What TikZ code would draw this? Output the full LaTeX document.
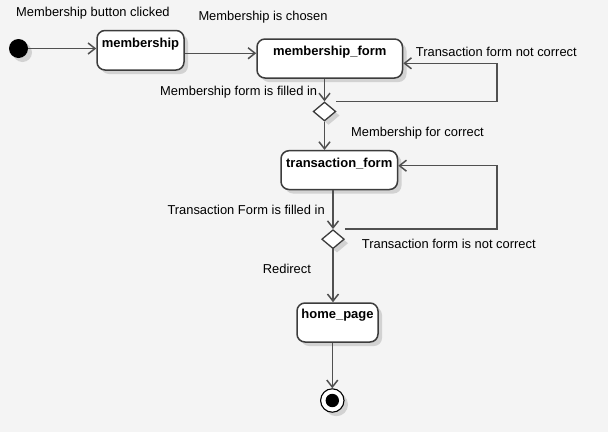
\documentclass[tikz,border=0pt]{standalone}
\usepackage{fontspec}
\setmainfont{Liberation Sans}
\usetikzlibrary{arrows.meta,shadows,shapes.geometric,calc}
\definecolor{bg}{HTML}{F4F4F4}
\definecolor{edgec}{HTML}{505050}
\definecolor{borderc}{HTML}{3C3C3C}
\definecolor{shadc}{HTML}{D2D2D2}
\tikzset{
  shad/.style={drop shadow={shadow xshift=4pt,shadow yshift=-4pt,fill=shadc,draw=none,opacity=1}},
  statebox/.style={draw=borderc,line width=1.5pt,fill=white,rounded corners=8pt,shad,inner sep=0pt},
  statetext/.style={font=\fontsize{13}{15}\selectfont\bfseries,anchor=base,inner sep=0pt},
  lbl/.style={font=\fontsize{12.9}{15}\selectfont,anchor=base west,inner sep=0pt},
  choice/.style={diamond,draw=borderc,fill=white,line width=1.3pt,inner sep=0pt,minimum width=22.6pt,minimum height=19pt,shad},
  flow/.style={draw=edgec,line width=1.5pt,-{Straight Barb[length=7pt,width=11pt]}},
}
\begin{document}
\begin{tikzpicture}[x=1pt,y=-1pt]
\useasboundingbox (0,0) rectangle (608,432);
\fill[bg] (0,0) rectangle (608,432);

% states
\node[circle,fill=black,minimum size=19pt,inner sep=0pt,shad] (init) at (18.5,48.5) {};
\node[statebox,minimum width=87pt,minimum height=39.5pt] (mb) at (140.5,50.25) {};
\node[statetext] (mbt) at ($(mb.north)+(0,18)$) {membership};
\node[statebox,minimum width=145.5pt,minimum height=39pt] (mf) at (329.75,58.5) {};
\node[statetext] (mft) at ($(mf.north)+(0,17)$) {membership\_form};
\node[choice] (d1) at (324.5,111.5) {};
\node[statebox,minimum width=116.5pt,minimum height=38.8pt] (tf) at (339.25,170.1) {};
\node[statetext] (tft) at ($(tf.north)+(0,17.3)$) {transaction\_form};
\node[choice] (d2) at (333,239.2) {};
\node[statebox,minimum width=81pt,minimum height=39pt] (hp) at (337.5,322.5) {};
\node[statetext] (hpt) at ($(hp.north)+(0,16)$) {home\_page};
\node[circle,draw=black,fill=white,line width=1.1pt,minimum size=23.4pt,inner sep=0pt,shad] (fin) at (332.3,400.5) {};
\node[circle,fill=black,minimum size=13.4pt,inner sep=0pt] (fini) at (fin.center) {};

% loop corners
\coordinate (c1) at (497,63.3);
\coordinate (c2) at (497,165.7);

% connectors
\draw[flow] (init.east) -- (init.east -| mb.west);
\draw[flow] ([yshift=-3pt]mb.east) -- ([yshift=-3pt]mb.east -| mf.west);
\draw[flow] (mf.south -| d1.north) -- (d1.north);
\draw[flow] (d1.north -| d1.east) -| (c1) -- (c1 -| mf.east);
\draw[flow] (d1.south) -- (d1.south |- tf.north);
\draw[flow] (tf.south -| d2.north) -- (d2.north);
\draw[flow] (d2.north -| d2.east) -| (c2) -- (c2 -| tf.east);
\draw[flow] (d2.south) -- (d2.south |- hp.north);
\draw[flow] (hp.south -| fin.north) -- (fin.north);

% labels
\node[lbl] (l1) at (16,16.5) {Membership button clicked};
\node[lbl] (l2) at (198.3,20.9) {Membership is chosen};
\node[lbl] (l3) at (415.7,56.5) {Transaction form not correct};
\node[lbl] (l4) at (160,95.9) {Membership form is filled in};
\node[lbl] (l5) at (351,136.3) {Membership for correct};
\node[lbl] (l6) at (167.3,214.9) {Transaction Form is filled in};
\node[lbl] (l7) at (361.7,248.5) {Transaction form is not correct};
\node[lbl] (l8) at (262.7,273.2) {Redirect};
\end{tikzpicture}
\end{document}
